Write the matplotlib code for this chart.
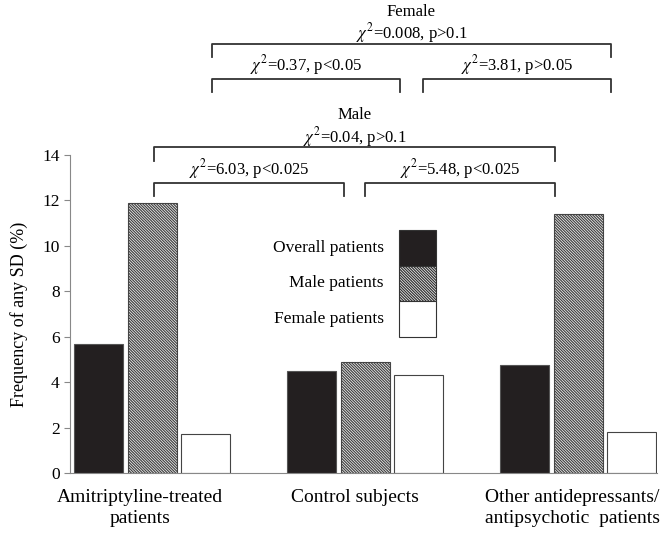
import numpy as np
import matplotlib
matplotlib.use("Agg")
import matplotlib.pyplot as plt
from matplotlib.patches import Rectangle

plt.rcParams['font.family'] = ['Liberation Serif', 'DejaVu Serif']
plt.rcParams['mathtext.fontset'] = 'stix'
plt.rcParams['hatch.linewidth'] = 0.9
plt.rcParams['hatch.color'] = '#3a3a3a'

# data
groups = ["Amitriptyline-treated\npatients", "Control subjects",
          "Other antidepressants/\nantipsychotic  patients"]
overall = [5.7, 4.5, 4.75]
male = [11.9, 4.9, 11.4]
female = [1.7, 4.3, 1.8]
series_names = ["Overall patients", "Male patients", "Female patients"]

# brackets: (x-from, x-to, y of bar, label, label y)
brackets = [
    (0.01, 1.89, 14.35, "$\\chi^2$=0.04, p>0.1", 14.80),
    (0.01, 0.90, 12.78, "$\\chi^2$=6.03, p<0.025", 13.40),
    (1.00, 1.89, 12.78, "$\\chi^2$=5.48, p<0.025", 13.40),
    (0.28, 2.155, 18.9, "$\\chi^2$=0.008, p>0.1", 19.38),
    (0.28, 1.165, 17.36, "$\\chi^2$=0.37, p<0.05", 17.97),
    (1.27, 2.155, 17.36, "$\\chi^2$=3.81, p>0.05", 17.97),
]
headers = [("Male", 0.95, 15.77), ("Female", 1.2175, 20.31)]

fig = plt.figure(figsize=(6.67, 5.36), dpi=100)
ax = fig.add_axes([0.105, 0.1175, 0.880, 0.5933])

x = np.arange(len(groups))
w = 0.23
step = 0.25
black = "#231f20"
dense = "\\" * 12
ax.bar(x - step, overall, w, color=black, edgecolor="#555555", linewidth=0.8)
ax.bar(x, male, w, color="white", edgecolor="#444444", hatch=dense, linewidth=0.8)
ax.bar(x + step, female, w, color="white", edgecolor="#444444", linewidth=0.8)

ax.set_xlim(-0.385, 2.37)
ax.set_ylim(0, 14)
ax.set_yticks(np.arange(0, 15, 2))
ax.tick_params(axis='y', labelsize=12.5, length=4, color="#888888", direction='out')
ax.set_xticks([])
for s in ["top", "right"]:
    ax.spines[s].set_visible(False)
for s in ["left", "bottom"]:
    ax.spines[s].set_color("#888888")
ax.set_ylabel("Frequency of any SD (%)", fontsize=13, labelpad=10)

# category labels
label_off = [-0.056, -0.047, -0.028]
for xi, lab, off in zip(x, groups, label_off):
    ax.text(xi + off, -0.72, lab, ha="center", va="top", fontsize=14,
            linespacing=1.25)

# brackets
for x0, x1, y, lab, ly in brackets:
    drop = 0.6
    ax.plot([x0, x0, x1, x1], [y - drop, y, y, y - drop], color="#333333",
            lw=1.3, clip_on=False)
    ax.text((x0 + x1) / 2, ly, lab, ha="center", va="center",
            fontsize=12, clip_on=False)
for lab, hx, hy in headers:
    ax.text(hx, hy, lab, ha="center", va="center", fontsize=12, clip_on=False)

# legend (manual box like the original)
box_x, box_w, box_top, h = 0.5605, 0.063, 0.764, 0.112
fills = [dict(facecolor=black), dict(facecolor="white", hatch=dense),
         dict(facecolor="white")]
for i, (name, f) in enumerate(zip(series_names, fills)):
    y0 = box_top - (i + 1) * h
    ax.add_patch(Rectangle((box_x, y0), box_w, h, transform=ax.transAxes,
                           edgecolor="#333333", linewidth=0.8, **f))
    ax.text(box_x - 0.026, y0 + h / 2, name, transform=ax.transAxes,
            ha="right", va="center", fontsize=12.5)

fig.savefig("out.png", dpi=100)
